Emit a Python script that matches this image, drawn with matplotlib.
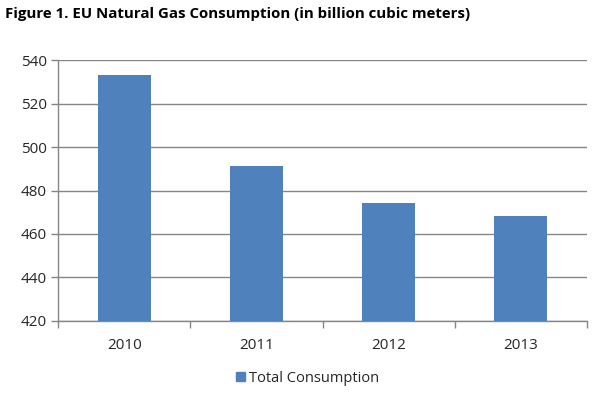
import matplotlib.pyplot as plt
from matplotlib.patches import Patch

plt.rcParams['font.family'] = ['Open Sans', 'DejaVu Sans']

years = ['2010', '2011', '2012', '2013']
consumption = [533.3, 491.4, 474.4, 468.4]
yticks = [420, 440, 460, 480, 500, 520, 540]

BLUE = '#4F81BD'
GRID = '#868686'
TEXT = '#262626'

fig = plt.figure(figsize=(6.03, 3.98), dpi=100)
ax = fig.add_axes([0.0962, 0.1935, 0.8773, 0.6557])

x = range(len(years))
ax.bar(x, consumption, width=0.4, color=BLUE, zorder=3)

ax.set_ylim(420, 540)
ax.set_xlim(-0.5, len(years) - 0.5)
ax.set_yticks(yticks)
ax.set_yticklabels([str(v) for v in yticks], fontsize=11, color=TEXT)
ax.yaxis.grid(True, color=GRID, lw=1)
ax.set_axisbelow(True)

ax.set_xticks(list(x))
ax.set_xticklabels(years, fontsize=11, color=TEXT)
ax.tick_params(axis='x', length=0, pad=12)
ax.set_xticks([i + 0.5 for i in range(-1, len(years))], minor=True)
ax.tick_params(axis='x', which='minor', length=5, color=GRID, width=1, direction='out')
ax.tick_params(axis='y', length=5, color=GRID, width=1, pad=3)

for s in ['top', 'right']:
    ax.spines[s].set_visible(False)
for s in ['left', 'bottom']:
    ax.spines[s].set_color(GRID)
    ax.spines[s].set_linewidth(1)

fig.text(0.008, 0.965, 'Figure 1. EU Natural Gas Consumption (in billion cubic meters)',
         fontsize=10.8, fontweight='bold', color='black', va='center', ha='left')

fig.legend(handles=[Patch(color=BLUE, label='Total Consumption')],
           loc='center', bbox_to_anchor=(0.51, 0.05), frameon=False,
           fontsize=10.5, handlelength=0.6, handleheight=0.6, handletextpad=0.3,
           labelcolor=TEXT)

fig.savefig('out.png', dpi=100)
